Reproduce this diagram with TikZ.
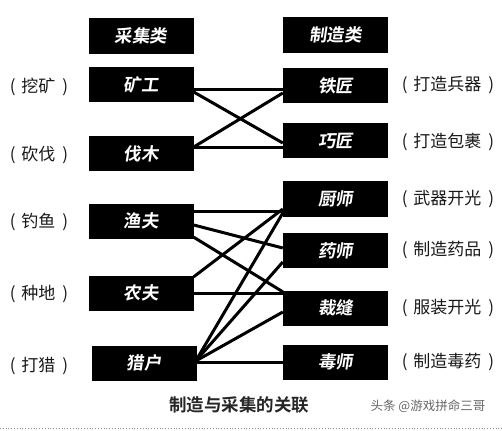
\documentclass[tikz,border=0pt]{standalone}
\usepackage{fontspec}
\newfontfamily\cjk{Noto Sans CJK SC}
\newfontfamily\cjkbox[FakeSlant=0.15]{Noto Sans CJK SC Bold}
\newfontfamily\cjkbold{Noto Sans CJK SC Bold}
\newcommand{\paren}[1]{(\hspace{6pt}#1\hspace{7pt})}
\begin{document}
\begin{tikzpicture}[x=1pt,y=-1pt,
  box/.style={fill=black, draw=none, minimum width=105pt, minimum height=35pt, inner sep=0pt,
    text=white, font=\cjkbox\fontsize{17.5}{18}\selectfont},
  lbl/.style={font=\cjk\fontsize{17}{17}\selectfont, text=black!90, inner sep=0pt},
  link/.style={line width=3pt, black}]
\useasboundingbox (0,0) rectangle (502,430);
% left column
\node[box, minimum height=36pt] (cj) at (141,36) {采集类};
\node[box] (kg) at (141,85) {矿工};
\node[box] (fm) at (141,154) {伐木};
\node[box] (yf) at (141,221) {渔夫};
\node[box] (nf) at (141,293) {农夫};
\node[box] (lh) at (144,363) {猎户};
% right column
\node[box, minimum height=36pt] (zz) at (335.5,35) {制造类};
\node[box] (tj) at (335.5,85.5) {铁匠};
\node[box] (qj) at (335.5,141) {巧匠};
\node[box] (cs) at (335.5,199) {厨师};
\node[box] (ys) at (335.5,250.5) {药师};
\node[box] (cf) at (335.5,308) {裁缝};
\node[box] (ds) at (335.5,362) {毒师};
% left labels
\node[lbl] (l1) at (39,87) {\paren{挖矿}};
\node[lbl] (l2) at (39,155) {\paren{砍伐}};
\node[lbl] (l3) at (39,222) {\paren{钓鱼}};
\node[lbl] (l4) at (39,294) {\paren{种地}};
\node[lbl] (l5) at (39,366) {\paren{打猎}};
% right labels
\node[lbl] (r1) at (448,85) {\paren{打造兵器}};
\node[lbl] (r2) at (448,142) {\paren{打造包裹}};
\node[lbl] (r3) at (448,199) {\paren{武器开光}};
\node[lbl] (r4) at (448,250) {\paren{制造药品}};
\node[lbl] (r5) at (448,308) {\paren{服装开光}};
\node[lbl] (r6) at (448,362) {\paren{制造毒药}};
% connectors
\draw[link] ([yshift=-5pt]kg.east) -- ([yshift=-4.5pt]tj.west);
\draw[link] ([yshift=-7pt]kg.east) -- ([yshift=-2pt]qj.west);
\draw[link] ([yshift=7pt]fm.east) -- ([yshift=-7.5pt]tj.west);
\draw[link] ([yshift=6pt]fm.east) -- ([yshift=-7pt]qj.west);
\draw[link] ([yshift=10pt]yf.east) -- ([yshift=-12pt]cs.west);
\draw[link] ([yshift=-4pt]yf.east) -- ([yshift=2.5pt]ys.west);
\draw[link] ([yshift=1.5pt]yf.south east) -- ([yshift=-1.5pt]cf.north west);
\draw[link] ([yshift=-1.5pt]nf.north east) -- ([yshift=-10pt]cs.west);
\draw[link] (nf.east) -- ([yshift=15pt]cf.west);
\draw[link] ([yshift=2pt,xshift=-1pt]lh.east) -- ([yshift=-14pt]cs.west);
\draw[link] ([yshift=2pt,xshift=-1pt]lh.east) -- ([yshift=-11.5pt]ys.west);
\draw[link] ([yshift=2pt,xshift=-1pt]lh.east) -- ([yshift=-4pt]cf.west);
\draw[link] ([yshift=1pt]lh.east) -- (ds.west);
% caption
\node[font=\cjkbold\fontsize{17.5}{18}\selectfont, text=black!85, inner sep=0pt] (cap) at (239,405) {制造与采集的关联};
\node[font=\cjk\fontsize{12.5}{13}\selectfont, text=black!60, inner sep=0pt] (src) at (428,406) {头条 @游戏拼命三哥};
\coordinate (dl) at (0,428.5);
\coordinate (dr) at (502,428.5);
\draw[black!45, line width=0.8pt, dotted] (dl) -- (dr);
\end{tikzpicture}
\end{document}
